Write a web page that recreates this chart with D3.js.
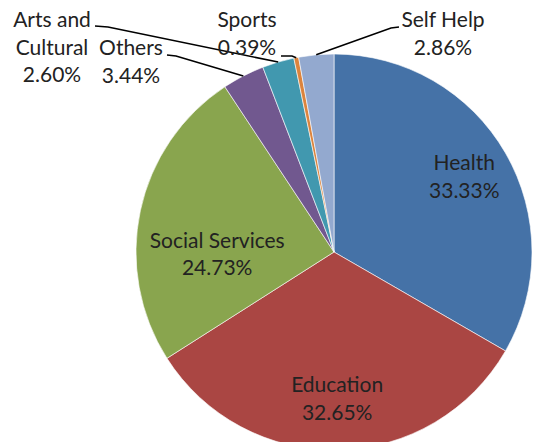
<!DOCTYPE html>
<html>
<head>
<meta charset="utf-8">
<script src="https://cdn.jsdelivr.net/npm/d3@7"></script>
<style>
  body { margin: 0; background: #fff; }
  text { font-family: Lato, "Open Sans", sans-serif; fill: #222; }
</style>
</head>
<body>
<div id="chart"></div>
<script>
// chart data
const categories = ["Health", "Education", "Social Services", "Others", "Arts and Cultural", "Sports", "Self Help"];
const shares = [33.33, 32.65, 24.73, 3.44, 2.60, 0.39, 2.86];
const colors = ["#4572A7", "#AA4643", "#89A54E", "#71588F", "#4198AF", "#DB843D", "#93A9CF"];
const labelLines = [["Health"], ["Education"], ["Social Services"], ["Others"], ["Arts and", "Cultural"], ["Sports"], ["Self Help"]];

// graphic dimensions
const width = 533, height = 442;
const cx = 334, cy = 252, radius = 198;
const fontSize = 21, lineGap = 27.5;

// where labels sit: inside ones by centroid radius/angle, outside ones by anchor
const labelLayout = [
    {inside: true, k: 0.76, shift: 0},
    {inside: true, k: 0.74, shift: 0},
    {inside: true, k: 0.59, shift: -13},
    {inside: false, x: 131, y: 48, from: [167, 55], kink: [176, 56]},
    {inside: false, x: 52, y: 20, from: [95, 26], kink: [108, 27]},
    {inside: false, x: 247, y: 20, from: [281, 56], kink: [292, 56]},
    {inside: false, x: 443, y: 20, from: [399, 27], kink: [391, 28]}
];

const svg = d3.select("#chart")
    .append("svg")
    .attr("width", width)
    .attr("height", height);

const g = svg.append("g")
    .attr("transform", "translate(" + cx + "," + cy + ")");

const pie = d3.pie().sort(null).value(d => d);
const arcs = pie(shares);

const arc = d3.arc().innerRadius(0).outerRadius(radius);

// slices
g.selectAll("path.slice")
    .data(arcs)
    .enter()
    .append("path")
    .attr("class", "slice")
    .attr("d", arc)
    .attr("fill", (d, i) => colors[i])
    .attr("stroke", "#fff")
    .attr("stroke-width", 0.6)
    .attr("stroke-linejoin", "round");

function polar(angle, r) {
    return [r * Math.sin(angle), -r * Math.cos(angle)];
}

// labels
arcs.forEach(function(d, i) {
    const lay = labelLayout[i];
    const lines = labelLines[i].concat([shares[i].toFixed(2) + "%"]);
    let x, y;
    if (lay.inside) {
        const mid = (d.startAngle + d.endAngle) / 2 + lay.shift * Math.PI / 180;
        const p = polar(mid, radius * lay.k);
        x = cx + p[0];
        y = cy + p[1] - (lines.length - 1) * lineGap / 2;
    } else {
        x = lay.x;
        y = lay.y;
        // leader line to the outer edge of the slice
        const mid = (d.startAngle + d.endAngle) / 2;
        const end = polar(mid, radius);
        svg.append("polyline")
            .attr("points", [lay.from, lay.kink, [cx + end[0], cy + end[1]]].map(p => p.join(",")).join(" "))
            .attr("fill", "none")
            .attr("stroke", "#000")
            .attr("stroke-width", 1.6);
    }
    const t = svg.append("text")
        .attr("text-anchor", "middle")
        .attr("font-size", fontSize);
    lines.forEach(function(line, j) {
        t.append("tspan")
            .attr("x", x)
            .attr("y", y + j * lineGap)
            .attr("dy", "0.35em")
            .text(line);
    });
});
</script>
</body>
</html>
